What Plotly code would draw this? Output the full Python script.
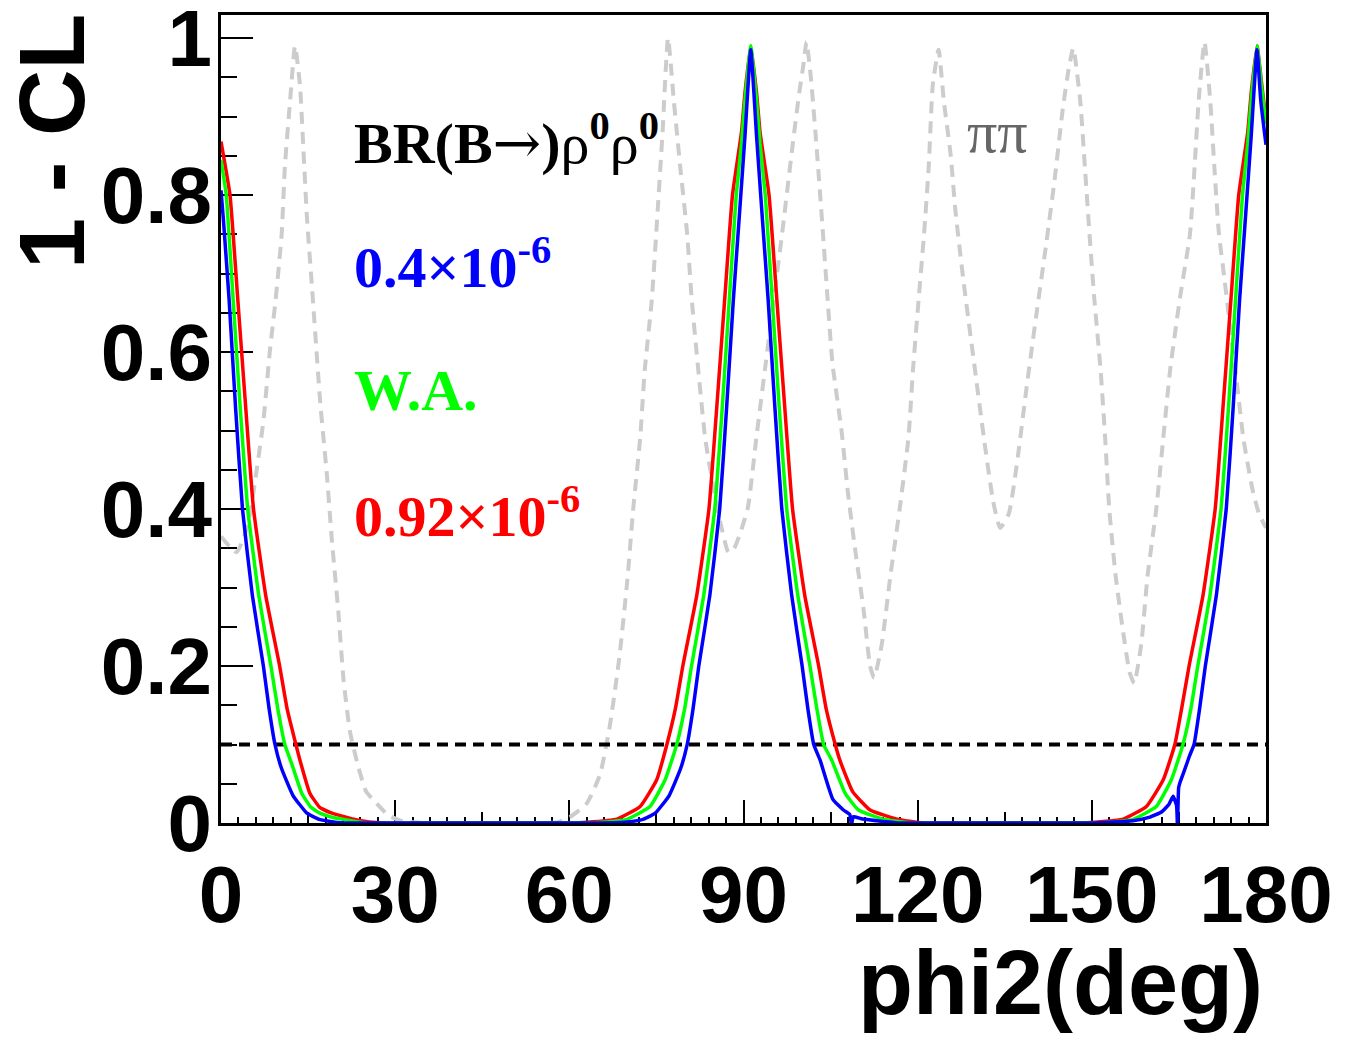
import plotly.graph_objects as go

# ---------------- data ----------------
X_MIN, X_MAX = 0, 180
Y_MIN, Y_MAX = 0, 1.0293
CL_LEVEL = 0.1

X_TICKS = [0, 30, 60, 90, 120, 150, 180]
X_TICK_LABELS = ["0", "30", "60", "90", "120", "150", "180"]
Y_TICKS = [0, 0.2, 0.4, 0.6, 0.8, 1.0]
Y_TICK_LABELS = ["0", "0.2", "0.4", "0.6", "0.8", "1"]

# grey dashed: pi pi constraint
pipi_phi2 = [0, 1.5, 2.7, 4.0, 5.0, 6.1, 7.3, 8.4, 9.4, 10.45, 11.0, 11.9, 12.75, 13.6, 14.2,
             14.8, 15.7, 17.1, 18.2, 19.1, 20.2, 21.1, 22.2, 23.6, 25.0, 26.8, 28.8, 31.0, 35,
             40, 45, 50, 55, 58, 60.1, 63.0, 65.3, 67.0, 68.6, 70.0, 71.0, 72.2, 73.0, 74.2,
             75.3, 76.05, 77.0, 78.0, 79.1, 80.3, 81.05, 82.2, 83.4, 84.9, 86.1, 87.4, 88.4,
             90.7, 92.2, 93.7, 95.2, 96.8, 98.4, 99.6, 100.3, 100.85, 101.6, 102.6, 103.6, 104.5,
             105.3, 106.9, 108.0, 109.2, 110.7, 111.8, 112.5, 113.8, 115.3, 116.9, 118.4, 119.2,
             120.2, 121.1, 121.9, 122.6, 123.6, 124.5, 125.7, 126.5, 127.9, 130.0, 131.6, 133.0,
             134.2, 135.7, 137.3, 138.8, 140.4, 142.0, 143.6, 145.0, 146.0, 146.8, 148.0, 148.8,
             149.6, 150.4, 151.5, 152.3, 153.0, 154.1, 155.3, 156.5, 157.3, 158.5, 159.6, 161.1,
             162.3, 163.5, 165.2, 166.9, 167.7, 168.4, 169.4, 170.4, 171.1, 171.9, 172.9, 174.0,
             175.0, 176.1, 177.7, 178.8, 180]
pipi_cl = [0.365, 0.352, 0.345, 0.365, 0.394, 0.447, 0.512, 0.6, 0.666, 0.75, 0.836, 0.92, 0.99,
           0.94, 0.857, 0.772, 0.68, 0.535, 0.447, 0.36, 0.27, 0.183, 0.117, 0.073, 0.04, 0.025,
           0.01, 0.003, 0, 0, 0, 0, 0, 0.001, 0.0075, 0.025, 0.062, 0.125, 0.21, 0.31, 0.40,
           0.49, 0.578, 0.666, 0.79, 0.879, 1.0, 0.92, 0.836, 0.75, 0.67, 0.578, 0.49, 0.424,
           0.38, 0.345, 0.35, 0.40, 0.49, 0.578, 0.666, 0.76, 0.86, 0.93, 0.965, 0.995, 0.95, 0.86,
           0.76, 0.666, 0.587, 0.499, 0.42, 0.35, 0.271, 0.2, 0.185, 0.227, 0.315, 0.40, 0.49,
           0.578, 0.67, 0.75, 0.836, 0.94, 0.985, 0.92, 0.85, 0.78, 0.69, 0.57, 0.48, 0.41,
           0.376, 0.394, 0.469, 0.557, 0.645, 0.73, 0.82, 0.91, 0.96, 0.987, 0.92, 0.836,
           0.75, 0.67, 0.578, 0.49, 0.40, 0.315, 0.248, 0.192, 0.178, 0.227, 0.315, 0.40, 0.49,
           0.578, 0.67, 0.75, 0.836, 0.92, 0.995, 0.92, 0.836, 0.75, 0.69, 0.62, 0.56, 0.49,
           0.424, 0.394, 0.376]

# red: BR = 0.92e-6
red_phi2 = [0, 1.55, 2.9, 4.25, 5.6, 7.7, 10.1, 11.4, 12.9, 13.6, 15.3, 17.0, 19.1, 23.4, 28, 45, 60,
            63, 68.2, 72.2, 75.05, 76.8, 78.25, 79.55, 81.95, 84.05, 85.4, 86.75, 88.1, 89.65, 90.25,
            91.25, 92.25, 92.85, 94.4, 95.75, 97.1, 98.45, 100.55, 102.95, 104.25, 105.8, 106.6,
            108.8, 111.8, 116.4, 121, 135, 148,
            150.4, 155.4, 159.4, 162.3, 164.3, 165.45, 166.75, 169.15, 171.25, 172.6, 173.95, 175.3,
            176.85, 177.45, 178.45, 179.2, 180]
red_cl = [0.868, 0.8, 0.666, 0.53, 0.40, 0.29, 0.20, 0.145, 0.10, 0.08, 0.038, 0.02, 0.0125, 0.004, 0, 0, 0,
          0.001, 0.005, 0.021, 0.055, 0.10, 0.145, 0.20, 0.29, 0.40, 0.53, 0.666, 0.8, 0.88, 0.93,
          0.99, 0.93, 0.88, 0.8, 0.666, 0.53, 0.40, 0.29, 0.20, 0.145, 0.10, 0.08,
          0.04, 0.0166, 0.005, 0, 0, 0,
          0.001, 0.005, 0.021, 0.055, 0.10, 0.145, 0.20, 0.29, 0.40, 0.53, 0.666, 0.8,
          0.88, 0.93, 0.99, 0.945, 0.895]

# green: world average
green_phi2 = [0, 0.9, 2.1, 3.3, 4.6, 6.5, 8.6, 9.8, 11.0, 12.2, 13.9, 15.5, 17.05, 19.3, 21.6, 25, 40, 55, 62,
              65.9, 69.9, 73.9, 76.5, 78.5, 79.85, 81.05, 83.15, 85.05, 86.35, 87.55, 88.75, 89.65, 90.25,
              91.25, 92.25, 92.85, 93.75, 94.95, 96.15, 97.45, 99.35, 101.45, 102.65, 103.8, 105.2, 107.5,
              109.8, 114, 119, 135, 150,
              153.1, 157.1, 161.1, 163.7, 165.7, 167.05, 168.25, 170.35, 172.25, 173.55, 174.75, 175.95,
              176.85, 177.45, 178.45, 179.2, 180]
green_cl = [0.845, 0.8, 0.666, 0.53, 0.40, 0.29, 0.20, 0.145, 0.10, 0.075, 0.038, 0.02, 0.0125, 0.007, 0.004, 0, 0, 0, 0,
            0.001, 0.0047, 0.021, 0.055, 0.10, 0.145, 0.20, 0.29, 0.40, 0.53, 0.666, 0.8, 0.865, 0.92,
            0.99, 0.92, 0.865, 0.8, 0.666, 0.53, 0.40, 0.29, 0.20, 0.145, 0.10, 0.08, 0.038,
            0.0166, 0.005, 0, 0, 0,
            0.001, 0.0047, 0.021, 0.055, 0.10, 0.145, 0.20, 0.29, 0.40, 0.53, 0.666, 0.8,
            0.865, 0.92, 0.99, 0.94, 0.89]

# blue: BR = 0.4e-6
blue_phi2 = [0, 0.4, 1.4, 2.5, 3.7, 5.4, 7.3, 8.3, 9.3, 10.4, 12.4, 14.8, 16.8, 18.8, 21, 30, 45, 60, 66,
             70.8, 72.8, 74.8, 77.2, 79.2, 80.3, 81.3, 82.3, 84.2, 85.9, 87.1, 88.25, 89.25, 90.25, 91.25,
             92.25, 93.25, 94.25, 95.4, 96.6, 98.3, 100.1, 101.1, 102.1, 103.2, 105.4, 107.2, 108.3, 108.6,
             108.9, 110.5, 114, 117, 130, 145, 150,
             157.1, 160, 162, 163.3, 164.0, 164.6, 164.75, 164.95, 165.2, 165.9, 166.8, 167.6, 168.55,
             169.55, 171.45, 173.15, 174.35, 175.45, 176.45, 177.45, 178.45, 179.1, 180]
blue_cl = [0.806, 0.77, 0.666, 0.53, 0.40, 0.29, 0.20, 0.145, 0.10, 0.07, 0.035, 0.0125, 0.005, 0.002, 0, 0, 0, 0, 0,
           0.002, 0.005, 0.0125, 0.035, 0.07, 0.10, 0.145, 0.20, 0.29, 0.40, 0.53, 0.666, 0.77, 0.875, 0.985,
           0.875, 0.77, 0.666, 0.53, 0.40, 0.29, 0.20, 0.145, 0.10, 0.08, 0.03, 0.0166, 0.011, -0.003,
           0.008, 0.005, 0.002, 0, 0, 0, 0,
           0.003, 0.0075, 0.014, 0.024, 0.034, 0.022, -0.005, 0.045, 0.052, 0.066, 0.085, 0.10, 0.145,
           0.20, 0.29, 0.40, 0.53, 0.666, 0.77, 0.875, 0.985, 0.92, 0.864]

for a, b in [(pipi_phi2, pipi_cl), (red_phi2, red_cl), (green_phi2, green_cl), (blue_phi2, blue_cl)]:
    assert len(a) == len(b), (len(a), len(b))

# ---------------- layout geometry ----------------
BODY = 8                      # browser default body margin
W, H = 1354 - BODY, 1043 - BODY
ML, MT = 221 - BODY, 15 - BODY
PW, PH = 1045, 808
MR, MB = W - ML - PW, H - MT - PH


def px_x(px):
    return (px - BODY - ML) / PW


def px_y(py):
    return (MT + PH - (py - BODY)) / PH


SANS = "Liberation Sans"
SERIF = "Liberation Serif"

fig = go.Figure()

fig.add_trace(go.Scatter(x=pipi_phi2, y=pipi_cl, mode="lines",
                         line=dict(color="#cccccc", width=4, dash="12px,8px", shape="spline",
                                   smoothing=0.5),
                         hoverinfo="skip"))
fig.add_trace(go.Scatter(x=[X_MIN, X_MAX], y=[CL_LEVEL, CL_LEVEL], mode="lines",
                         line=dict(color="black", width=4, dash="11px,7px"),
                         hoverinfo="skip"))
for xs, ys, col in [(red_phi2, red_cl, "#ff0000"), (green_phi2, green_cl, "#00ff00"),
                    (blue_phi2, blue_cl, "#0000ff")]:
    fig.add_trace(go.Scatter(x=xs, y=ys, mode="lines",
                             line=dict(color=col, width=3.5, shape="spline", smoothing=0.4)))
# invisible trace carrying the medium (15 deg) tick axis
fig.add_trace(go.Scatter(x=[X_MIN, X_MAX], y=[CL_LEVEL, CL_LEVEL], mode="none",
                         xaxis="x2", hoverinfo="skip"))

tickfont = dict(family=SANS, size=80, color="black", weight="bold")

fig.update_layout(
    width=W, height=H,
    margin=dict(l=ML, r=MR, t=MT, b=MB, pad=0),
    paper_bgcolor="white", plot_bgcolor="white",
    showlegend=False,
    xaxis=dict(range=[X_MIN, X_MAX], tickmode="array", tickvals=X_TICKS, ticktext=X_TICK_LABELS,
               ticks="inside", ticklen=23, tickwidth=2, tickcolor="black",
               minor=dict(dtick=3, ticks="inside", ticklen=6, tickwidth=2, tickcolor="black",
                          showgrid=False),
               showline=True, linewidth=3, linecolor="black", mirror=True,
               showgrid=False, zeroline=False, tickfont=tickfont, ticklabelstandoff=0,
               ticklabeloverflow="allow",
               layer="below traces", automargin=False, fixedrange=True),
    xaxis2=dict(range=[X_MIN, X_MAX], overlaying="x", anchor="y", side="bottom",
                dtick=15, tick0=0, ticks="inside", ticklen=11, tickwidth=2, tickcolor="black",
                showticklabels=False, showline=False, showgrid=False, zeroline=False,
                layer="below traces", automargin=False),
    yaxis=dict(range=[Y_MIN, Y_MAX], tickmode="array", tickvals=Y_TICKS, ticktext=Y_TICK_LABELS,
               ticks="inside", ticklen=32, tickwidth=2, tickcolor="black",
               minor=dict(dtick=0.05, tick0=0, ticks="inside", ticklen=16, tickwidth=2,
                          tickcolor="black", showgrid=False),
               showline=True, linewidth=3, linecolor="black", mirror=True,
               showgrid=False, zeroline=False, tickfont=tickfont, ticklabelstandoff=-10,
               ticklabeloverflow="allow",
               layer="below traces", automargin=False, fixedrange=True),
)

annotations = [
    # axis titles
    dict(text="1 - CL", textangle=-90, x=px_x(52), y=px_y(12), xanchor="center", yanchor="top",
         font=dict(family=SANS, size=92, color="black", weight="bold")),
    dict(text="phi2(deg)", x=px_x(1264), y=px_y(983), xanchor="right", yanchor="middle",
         font=dict(family=SANS, size=90, color="black", weight="bold")),
    # labels inside the frame
    dict(text="<b>BR(B</b><span style=\"font-family:'DejaVu Serif'\">→</span><b>)</b>"
              "ρ<sup><b>0</b></sup>ρ<sup><b>0</b></sup>",
         x=px_x(353), y=px_y(140), xanchor="left", yanchor="middle",
         font=dict(family=SERIF, size=58, color="black")),
    dict(text="<b>0.4×10<sup>-6</sup></b>", x=px_x(353), y=px_y(263), xanchor="left", yanchor="middle",
         font=dict(family=SERIF, size=58, color="#0000ff")),
    dict(text="<b>W.A.</b>", x=px_x(353), y=px_y(390), xanchor="left", yanchor="middle",
         font=dict(family=SERIF, size=58, color="#00ff00")),
    dict(text="<b>0.92×10<sup>-6</sup></b>", x=px_x(353), y=px_y(512), xanchor="left", yanchor="middle",
         font=dict(family=SERIF, size=58, color="#ff0000")),
    dict(text="ππ", x=px_x(966), y=px_y(132), xanchor="left", yanchor="middle",
         font=dict(family=SERIF, size=60, color="#666666")),
]
for a in annotations:
    a.update(xref="paper", yref="paper", showarrow=False, borderpad=0)
fig.update_layout(annotations=annotations)

fig.write_html("out.html")
